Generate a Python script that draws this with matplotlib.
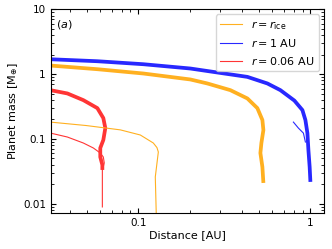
import matplotlib
matplotlib.use("Agg")
import matplotlib.pyplot as plt
from matplotlib.ticker import FuncFormatter, LogLocator

# r = r_ice
ice_thick_x = [0.0308, 0.0578, 0.1069, 0.2006, 0.2519, 0.3426, 0.4302, 0.4917, 0.5260, 0.5331, 0.5190, 0.5121, 0.5260, 0.5331]
ice_thick_m = [1.361, 1.194, 1.025, 0.829, 0.719, 0.567, 0.422, 0.299, 0.196, 0.137, 0.0865, 0.0606, 0.0369, 0.0209]
ice_thin_x = [0.0308, 0.0498, 0.0786, 0.1027, 0.1222, 0.1283, 0.1307, 0.1290, 0.1255, 0.1273]
ice_thin_m = [0.182, 0.161, 0.138, 0.115, 0.0865, 0.0735, 0.0628, 0.0473, 0.0259, 0.006]

# r = 1 AU
au1_thick_x = [0.0308, 0.0578, 0.1069, 0.2006, 0.2729, 0.4302, 0.5623, 0.6691, 0.8071, 0.8985, 0.9352, 0.9607, 0.9736, 0.99, 1.0]
au1_thick_m = [1.702, 1.586, 1.426, 1.224, 1.085, 0.909, 0.719, 0.567, 0.391, 0.279, 0.196, 0.123, 0.0675, 0.0369, 0.0217]
au1_thin_x = [0.7965, 0.8517, 0.9106, 0.9352]
au1_thin_m = [0.182, 0.147, 0.123, 0.0896]

# r = 0.06 AU
au006_thick_x = [0.0308, 0.0387, 0.0479, 0.0578, 0.0626, 0.0643, 0.0626, 0.0601, 0.0601, 0.0618, 0.0618]
au006_thick_m = [0.567, 0.504, 0.3975, 0.299, 0.210, 0.147, 0.0962, 0.0724, 0.0526, 0.0396, 0.0332]
au006_thin_x = [0.0308, 0.0387, 0.0479, 0.0548, 0.0601, 0.0626, 0.0634, 0.0618, 0.0618, 0.0618]
au006_thin_m = [0.1233, 0.107, 0.0865, 0.0724, 0.0606, 0.0526, 0.0425, 0.0332, 0.0163, 0.0089]

c_ice = "#ffb020"
c_1 = "#2828ff"
c_006 = "#ff3535"

fig = plt.figure(figsize=(3.32, 2.49), dpi=100)
ax = fig.add_axes([0.153, 0.145, 0.823, 0.817])

thick = dict(lw=2.7, solid_capstyle="butt", solid_joinstyle="round")
ax.plot(ice_thick_x, ice_thick_m, color=c_ice, **thick)
ax.plot(au1_thick_x, au1_thick_m, color=c_1, **thick)
ax.plot(au006_thick_x, au006_thick_m, color=c_006, **thick)
ax.plot(ice_thin_x, ice_thin_m, color=c_ice, lw=0.8, label=r"$r = r_{\rm ice}$")
ax.plot(au1_thin_x, au1_thin_m, color=c_1, lw=0.8, label=r"$r = 1$ AU")
ax.plot(au006_thin_x, au006_thin_m, color=c_006, lw=0.8, label=r"$r = 0.06$ AU")

ax.set_xscale("log")
ax.set_yscale("log")
ax.set_xlim(0.031, 1.2)
ax.set_ylim(0.0072, 10)

fmt = FuncFormatter(lambda v, p: "%g" % v)
ax.xaxis.set_major_formatter(fmt)
ax.yaxis.set_major_formatter(fmt)
ax.yaxis.set_major_locator(LogLocator(base=10, numticks=10))
ax.tick_params(which="both", direction="in", top=True, right=True, labelsize=7.5)
ax.tick_params(which="major", length=3.5)
ax.tick_params(which="minor", length=2)

ax.set_xlabel("Distance [AU]", fontsize=8, labelpad=2)
ax.set_ylabel(r"Planet mass [M$_{\oplus}$]", fontsize=8, labelpad=2)
ax.text(0.02, 0.96, "($a$)", transform=ax.transAxes, fontsize=8, va="top", ha="left")

ax.legend(loc="upper right", fontsize=8, handlelength=2.0, borderaxespad=0.45)

fig.savefig("out.png", dpi=100)
